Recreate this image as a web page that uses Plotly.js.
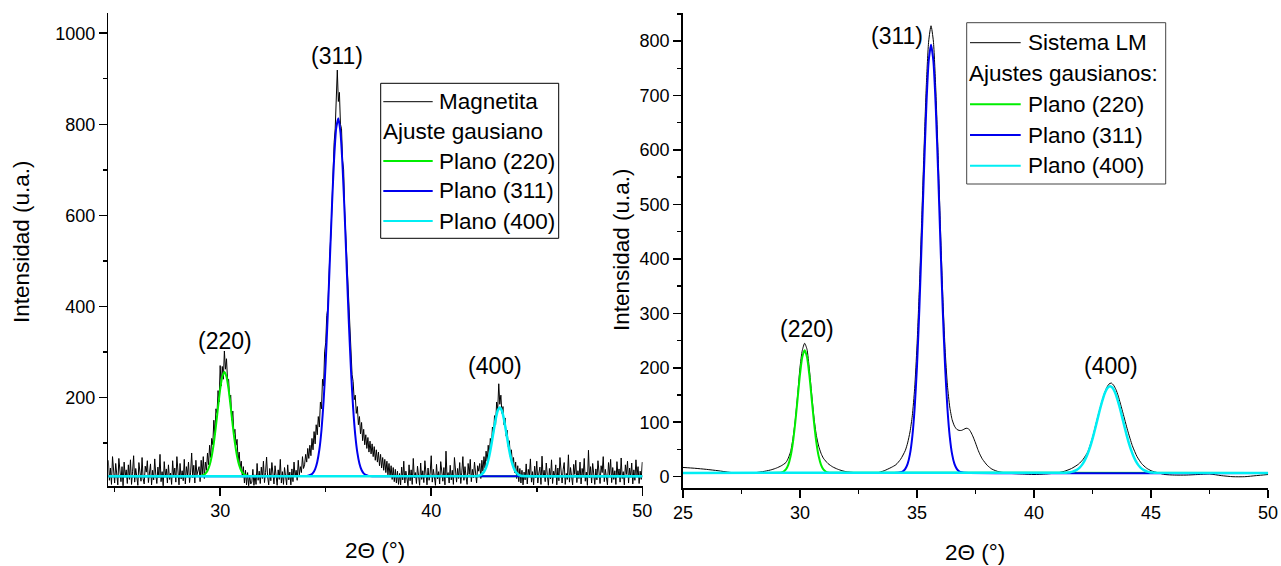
<!DOCTYPE html>
<html>
<head>
<meta charset="utf-8">
<script src="https://cdn.plot.ly/plotly-3.0.1.min.js"></script>
<style>html,body{margin:0;padding:0;background:#fff;}#chart{width:1281px;height:566px;}</style>
</head>
<body>
<div id="chart"></div>
<script>
// ---------------- DATA ----------------
// Left panel: Magnetita raw pattern, sampled every 0.05 deg, in segments (start angle + values)
const magStep = 0.05;
const magBg1Start = 24.70;
const magBg1 = [62,18,45,9,70,31,12,55,24,8,66,35,15,48,6,58,27,41,11,52,
  20,63,9,38,72,14,44,26,7,57,33,16,68,22,10,49,36,61,13,29,
  54,8,40,19,65,30,11,47,24,75,15,37,6,59,28,43,12,52,20,34,
  9,61,26,45,14,70,32,8,55,21,39,17,64,10,48,29,58,13,36,78,
  24,51,12,62,30,44];
const mag220Start = 29.00;
const mag220 = [48,15,62,30,70,22,58,40,78,52,95,68,110,96,150,118,175,165,215,190,
  270,225,268,240,302,262,285,238,240,195,205,150,170,120,130,95,108,62,80,45,
  60,25,48,12,40,8,35,6,28,10];
const magBg2Start = 31.50;
const magBg2 = [14,42,7,30,9,55,18,38,11,47,
  22,60,13,35,69,25,8,44,17,57,
  28,10,50,33,7,41,20,64,12,37,
  9,46,24,8,52,19,36,8,43,15,
  58,26,40,18,62,30,48,35,70,44];
const mag311Start = 34.00;
const mag311 = [52,75,58,88,66,95,72,110,85,125,98,140,118,158,135,190,175,240,225,300,
  320,380,395,470,520,560,640,680,760,790,880,919,850,870,800,790,720,700,610,560,
  500,430,390,330,300,250,235,195,205,165,180,140,158,120,145,105,130,96,118,88,
  112,80,104,76,98,70,92,62,85,58,80,50,75,45,68,40,64,35,60,30,
  55,26,50,20,46,15,42,12,38,9];
const magBg3Start = 38.50;
const magBg3 = [33,8,47,19,60,12,38,25,6,52,
  17,41,9,66,23,35,11,49,28,7,
  56,20,39,13,61,31,8,45,18,34,
  72,14,42,26,7,53,21,37,10,59,
  29,16,46,8,82,24,35,12,51,19,
  40,9,68,27,14,44,22,57,11,36,
  70,18,48,26,9,55,31,64,15,42,
  24,58,33,12,50,38];
const mag400Start = 42.30;
const mag400 = [55,22,62,38,70,45,82,60,95,72,110,90,135,118,160,140,190,172,230,185,
  205,165,180,140,155,115,128,92,105,70,85,52,68,35,58,22,50,15,44,12,40,8,36];
const magBg4Start = 44.45;
const magBg4 = [19,54,10,42,27,65,14,37,8,49,
  23,60,12,34,47,9,71,25,40,15,
  56,30,7,44,21,63,11,38,26,52,
  8,45,17,68,29,12,41,57,9,33,
  20,74,14,46,27,8,53,31,62,13,
  39,22,58,10,44,28,66,16,36,7,
  84,24,48,12,55,32,9,43,19,61,
  26,11,50,35,70,15,42,23,8,57,
  30,64,13,46,20,39,9,59,27,43,
  14,67,22,37,8,52,31,60,12,45,
  25,56,10,41,18,63,29,48,11,38,
  20,58];

// Left panel Gaussian fits
const fitL220X = [24.7,29.0,29.1,29.2,29.3,29.4,29.5,29.6,29.7,29.8,29.9,30.0,30.1,30.2,30.3,30.4,30.5,30.6,30.7,30.8,30.9,31.0,31.1,31.2,31.3,31.4,50];
const fitL220Y = [27,27.3,27.9,29.3,32.6,39.1,51.1,70.9,99.7,136.9,178.5,217.6,245.7,256,245.7,217.6,178.5,136.9,99.7,70.9,51.1,39.1,32.6,29.3,27.9,27.3,27];
const fitL311X = [24.7,34.0,34.1,34.2,34.3,34.4,34.5,34.6,34.7,34.8,34.9,35.0,35.1,35.2,35.3,35.4,35.5,35.6,35.7,35.8,35.9,36.0,36.1,36.2,36.3,36.4,36.5,36.6,36.7,36.8,36.9,37.0,37.1,37.2,50];
const fitL311Y = [27,27.2,27.5,28.4,30.3,34.5,42.8,58.4,85.2,128,191,277,384,504,623,725,792,813,782,707,600,479,361,258,177,118,78.7,54.5,40.7,33.4,29.8,28.1,27.4,27.1,27];
const fitL400X = [24.7,42.15,42.25,42.35,42.45,42.55,42.65,42.75,42.85,42.95,43.05,43.15,43.25,43.35,43.45,43.55,43.65,43.75,43.85,43.95,44.05,44.15,44.25,44.35,50];
const fitL400Y = [27,27.4,28.1,29.9,33.6,40.8,53.0,71.5,96.1,124.3,151.2,170.8,178,170.8,151.2,124.3,96.1,71.5,53.0,40.8,33.6,29.9,28.1,27.4,27];

// Right panel: Sistema LM
const lmX = [25.0,25.5,26.0,26.5,27.0,27.5,28.0,28.5,28.8,29.0,29.2,29.4,29.5,29.6,29.7,29.8,29.9,30.0,30.1,30.2,30.3,30.4,30.5,30.6,30.7,30.8,30.9,31.0,31.2,31.4,31.6,31.8,32.0,32.5,33.0,33.3,33.6,33.9,34.1,34.3,34.5,34.6,34.7,34.8,34.9,35.0,35.1,35.2,35.3,35.4,35.5,35.6,35.7,35.8,35.9,36.0,36.1,36.2,36.3,36.4,36.5,36.6,36.7,36.8,36.9,37.0,37.1,37.2,37.3,37.4,37.5,37.6,37.7,37.8,38.0,38.2,38.5,39.0,39.5,40.0,40.5,41.0,41.3,41.6,41.9,42.1,42.3,42.5,42.7,42.9,43.0,43.1,43.2,43.3,43.4,43.5,43.6,43.8,44.0,44.2,44.4,44.6,44.8,45.0,45.3,45.6,46.0,46.5,47.0,47.5,48.0,48.5,49.0,49.5,50.0];
const lmY = [17,15.5,13.5,11,8,6,7,10,13,16,20,26,34,46,70,104,150,200,232,245,234,198,152,108,76,56,43,34,24,18,14,11,9,7,6,7,11,17,22,32,48,62,82,112,162,240,345,470,600,720,800,828,800,715,595,460,335,235,168,128,105,93,87,85,85,87,89,88,82,73,62,50,40,32,21,14,9,6,5,4,5,7,10,15,23,32,46,72,106,138,152,163,170,172,168,160,148,117,85,57,37,24,16,11,7,4,3,3,4,5,2,0,0,2,4];

// Right panel Gaussian fits
const fitR220X = [25,29.1,29.2,29.3,29.4,29.5,29.6,29.7,29.8,29.9,30.0,30.1,30.2,30.3,30.4,30.5,30.6,30.7,30.8,30.9,31.0,31.1,31.2,31.3,50];
const fitR220Y = [7,7.3,7.9,9.5,13.4,21.8,37.4,63.1,99.5,143.5,187.2,219.8,232,219.8,187.2,143.5,99.5,63.1,37.4,21.8,13.4,9.5,7.9,7.3,7];
const fitR311X = [25,34.2,34.3,34.4,34.5,34.6,34.7,34.8,34.9,35.0,35.1,35.2,35.3,35.4,35.5,35.6,35.7,35.8,35.9,36.0,36.1,36.2,36.3,36.4,36.5,36.6,36.7,36.8,36.9,37.0,50];
const fitR311Y = [7,7.4,8.2,10.0,14.4,23.6,41.5,73.6,125.7,203,306.6,431,562.4,680.6,763.3,793,763.3,680.6,562.4,431,306.6,203,125.7,73.6,41.5,23.6,14.4,10.0,8.2,7.4,7];
const fitR400X = [25,41.25,41.35,41.45,41.55,41.65,41.75,41.85,41.95,42.05,42.15,42.25,42.35,42.45,42.55,42.65,42.75,42.85,42.95,43.05,43.15,43.25,43.35,43.45,43.55,43.65,43.75,43.85,43.95,44.05,44.15,44.25,44.35,44.45,44.55,44.65,44.75,44.85,44.95,45.05,45.15,45.25,50];
const fitR400Y = [7,7.2,7.4,7.7,8.3,9.3,10.9,13.2,16.7,21.7,28.5,37.4,48.7,62.2,77.7,94.7,112.2,129.0,144.0,155.8,163.4,166,163.4,155.8,144.0,129.0,112.2,94.7,77.7,62.2,48.7,37.4,28.5,21.7,16.7,13.2,10.9,9.3,8.3,7.7,7.4,7.2,7];

// Peak labels
const peakNames = ['(220)','(311)','(400)'];
const peakLeftX = [30.25,35.53,43.0];
const peakLeftY = [324,950,269];
const peakRightX = [30.29,34.13,43.3];
const peakRightY = [272,809,203];

// Text
const legendLeft = ['Magnetita','Ajuste gausiano','Plano (220)','Plano (311)','Plano (400)'];
const legendRight = ['Sistema LM','Ajustes gausianos:','Plano (220)','Plano (311)','Plano (400)'];
const xTitle = '2\u0398 (\u00b0)';
const yTitle = 'Intensidad (u.a.)';

// ---------------- BUILD ----------------
const W = 1281, H = 566;
const px = v => v / W;
const py = v => 1 - v / H;
const FONT = 'Liberation Sans, Arial, Helvetica, sans-serif';
const GREEN = '#00ee00', BLUE = '#0000ee', CYAN = '#00eef4';
const LEG_SIZE = 22.5, PEAK_SIZE = 23, TITLE_SIZE = 22.5, TICK_SIZE = 18;

function segX(start, vals) { return vals.map((_, i) => Math.round((start + i * magStep) * 100) / 100); }
const magX = [].concat(segX(magBg1Start, magBg1), segX(mag220Start, mag220), segX(magBg2Start, magBg2),
  segX(mag311Start, mag311), segX(magBg3Start, magBg3), segX(mag400Start, mag400), segX(magBg4Start, magBg4));
const magY = [].concat(magBg1, mag220, magBg2, mag311, magBg3, mag400, magBg4);

const traces = [
  {x: magX, y: magY, xaxis: 'x', yaxis: 'y', mode: 'lines', line: {color: '#000', width: 1}, showlegend: false},
  {x: fitL220X, y: fitL220Y, xaxis: 'x', yaxis: 'y', mode: 'lines', line: {color: GREEN, width: 2, shape: 'spline', smoothing: 0.6}, showlegend: false},
  {x: fitL311X, y: fitL311Y, xaxis: 'x', yaxis: 'y', mode: 'lines', line: {color: BLUE, width: 2, shape: 'spline', smoothing: 0.6}, showlegend: false},
  {x: fitL400X, y: fitL400Y, xaxis: 'x', yaxis: 'y', mode: 'lines', line: {color: CYAN, width: 2.5, shape: 'spline', smoothing: 0.6}, showlegend: false},
  {x: lmX, y: lmY, xaxis: 'x2', yaxis: 'y2', mode: 'lines', line: {color: '#000', width: 1, shape: 'spline', smoothing: 0.6}, showlegend: false},
  {x: fitR220X, y: fitR220Y, xaxis: 'x2', yaxis: 'y2', mode: 'lines', line: {color: GREEN, width: 2, shape: 'spline', smoothing: 0.6}, showlegend: false},
  {x: fitR311X, y: fitR311Y, xaxis: 'x2', yaxis: 'y2', mode: 'lines', line: {color: BLUE, width: 2, shape: 'spline', smoothing: 0.6}, showlegend: false},
  {x: fitR400X, y: fitR400Y, xaxis: 'x2', yaxis: 'y2', mode: 'lines', line: {color: CYAN, width: 2.5, shape: 'spline', smoothing: 0.6}, showlegend: false}
];

const axisCommon = {
  showgrid: false, zeroline: false, showline: true, linecolor: '#000', linewidth: 1.5,
  ticks: 'outside', ticklen: 8, tickwidth: 1.5, tickcolor: '#000',
  tickfont: {family: FONT, size: TICK_SIZE, color: '#000'}, mirror: false, fixedrange: true
};
const minorCommon = {ticks: 'outside', ticklen: 4, tickwidth: 1.5, tickcolor: '#000'};

const layout = {
  width: W, height: H, margin: {l: 0, r: 0, t: 0, b: 0},
  paper_bgcolor: '#fff', plot_bgcolor: '#fff', showlegend: false,
  font: {family: FONT, color: '#000'},
  xaxis: Object.assign({}, axisCommon, {domain: [px(108.3), px(642.7)], range: [24.7, 50.02], tick0: 0, dtick: 10,
    minor: Object.assign({}, minorCommon, {tick0: 0, dtick: 5}), anchor: 'y'}),
  yaxis: Object.assign({}, axisCommon, {domain: [py(486), py(12.7)], range: [5.5, 1045], tick0: 0, dtick: 200,
    minor: Object.assign({}, minorCommon, {tick0: 0, dtick: 100}), anchor: 'x'}),
  xaxis2: Object.assign({}, axisCommon, {domain: [px(682.7), px(1268.3)], range: [24.99, 50.01], tick0: 0, dtick: 5,
    minor: Object.assign({}, minorCommon, {tick0: 0, dtick: 2.5}), anchor: 'y2'}),
  yaxis2: Object.assign({}, axisCommon, {domain: [py(488.3), py(12.7)], range: [-21.3, 852], tick0: 0, dtick: 100,
    minor: Object.assign({}, minorCommon, {tick0: 0, dtick: 50}), anchor: 'x2'}),
  shapes: [],
  annotations: []
};

// axis titles
layout.annotations.push(
  {xref: 'paper', yref: 'paper', x: px(375), y: py(550), text: xTitle, showarrow: false, xanchor: 'center', yanchor: 'middle', font: {family: FONT, size: TITLE_SIZE, color: '#000'}},
  {xref: 'paper', yref: 'paper', x: px(975), y: py(552), text: xTitle, showarrow: false, xanchor: 'center', yanchor: 'middle', font: {family: FONT, size: TITLE_SIZE, color: '#000'}},
  {xref: 'paper', yref: 'paper', x: px(22), y: py(242), text: yTitle, textangle: -90, showarrow: false, xanchor: 'center', yanchor: 'middle', font: {family: FONT, size: TITLE_SIZE, color: '#000'}},
  {xref: 'paper', yref: 'paper', x: px(621), y: py(250), text: yTitle, textangle: -90, showarrow: false, xanchor: 'center', yanchor: 'middle', font: {family: FONT, size: TITLE_SIZE, color: '#000'}}
);

// peak labels
peakNames.forEach((t, i) => {
  layout.annotations.push({xref: 'x', yref: 'y', x: peakLeftX[i], y: peakLeftY[i], text: t, showarrow: false, xanchor: 'center', yanchor: 'middle', font: {family: FONT, size: PEAK_SIZE, color: '#000'}});
  layout.annotations.push({xref: 'x2', yref: 'y2', x: peakRightX[i], y: peakRightY[i], text: t, showarrow: false, xanchor: 'center', yanchor: 'middle', font: {family: FONT, size: PEAK_SIZE, color: '#000'}});
});

// legends (drawn boxes)
function addLegend(box, rows, names, lineX0, lineX1, textX, headerX, colors, borderColor) {
  layout.shapes.push({type: 'rect', xref: 'paper', yref: 'paper', x0: px(box[0]), x1: px(box[1]), y0: py(box[3]), y1: py(box[2]),
    line: {color: borderColor, width: 1}, fillcolor: '#fff', layer: 'above'});
  names.forEach((n, i) => {
    if (colors[i]) {
      layout.shapes.push({type: 'line', xref: 'paper', yref: 'paper', x0: px(lineX0), x1: px(lineX1), y0: py(rows[i]), y1: py(rows[i]),
        line: {color: colors[i], width: i === 0 ? 1 : 2}, layer: 'above'});
      layout.annotations.push({xref: 'paper', yref: 'paper', x: px(textX), y: py(rows[i]), text: n, showarrow: false, xanchor: 'left', yanchor: 'middle', font: {family: FONT, size: LEG_SIZE, color: '#000'}});
    } else {
      layout.annotations.push({xref: 'paper', yref: 'paper', x: px(headerX), y: py(rows[i]), text: n, showarrow: false, xanchor: 'left', yanchor: 'middle', font: {family: FONT, size: LEG_SIZE, color: '#000'}});
    }
  });
}
addLegend([380.7, 558.7, 83.3, 238.3], [101.7, 131.7, 161, 191, 221], legendLeft, 383.3, 432.7, 437, 380.5,
  ['#000', null, GREEN, BLUE, CYAN], '#000');
addLegend([966.7, 1165.7, 22.7, 184], [42.7, 73.3, 104.3, 135, 165.7], legendRight, 970, 1020.7, 1025.5, 967,
  ['#000', null, GREEN, BLUE, CYAN], '#444');

Plotly.newPlot('chart', traces, layout, {staticPlot: true, displayModeBar: false});
</script>
</body>
</html>
